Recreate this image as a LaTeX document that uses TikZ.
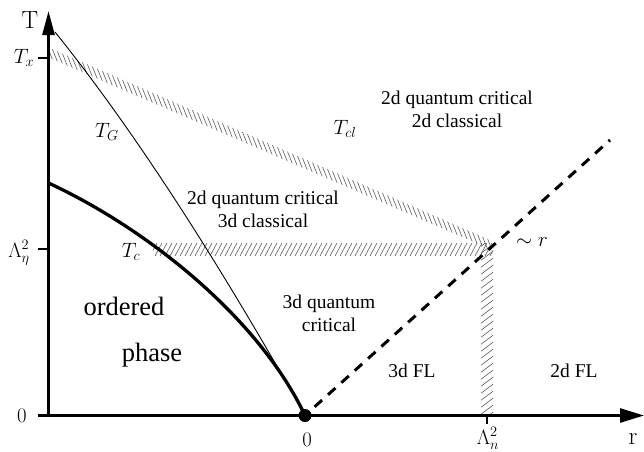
\documentclass[tikz,border=0pt]{standalone}
\usepackage[no-math]{fontspec}
\setmainfont{Liberation Serif}
\usetikzlibrary{arrows.meta}
\begin{document}
\begin{tikzpicture}[x=1pt,y=-1pt,
  axis/.style={line width=2.6pt},
  hatch/.style={draw=black!60,line width=0.65pt},
  reg/.style={font=\fontsize{19.5}{22}\selectfont, anchor=base, inner sep=0pt},
  big/.style={font=\fontsize{26.5}{30}\selectfont, anchor=base, inner sep=0pt},
  mlab/.style={font=\fontsize{21}{24}\selectfont, anchor=base, inner sep=0pt},
  alab/.style={font=\fontsize{26}{28}\selectfont, anchor=base, inner sep=0pt}]
\useasboundingbox (0,0) rectangle (644,451);
\coordinate (O) at (305,415.5);
\coordinate (Tx) at (48.5,58);
\coordinate (Le) at (48.5,249);
\coordinate (C) at (487,249);
\coordinate (Ln) at (487,415.5);
\coordinate (E) at (610,140);
\coordinate (Ybot) at (48.5,415.5);
\coordinate (Ytop) at (48.5,11);
\coordinate (Xl) at (38,415.5);
\coordinate (Xr) at (644,415.5);
% T_cl hatched band
\begin{scope}
  \clip (49.8,58) -- (490,249) -- (490,240) -- (49.8,48) -- cycle;
  \foreach \x in {40,45,...,500}
    \draw[hatch] ({\x-6},{53+0.435*(\x-49)-15}) -- ({\x+6},{53+0.435*(\x-49)+15});
\end{scope}
% horizontal hatched band
\begin{scope}
  \clip (153,243) rectangle (493,255);
  \foreach \x in {145,150,...,500}
    \draw[hatch] (\x,256) -- ({\x+7.5},242);
\end{scope}
% vertical hatched band
\begin{scope}
  \clip (481,243) rectangle (493,414);
  \foreach \y in {240,247,...,440}
    \draw[hatch] (480,\y) -- (494,{\y-10.5});
\end{scope}
% curves
\draw[line width=0.9pt] (55,32) .. controls (150,150) and (240,300) .. (O);
\draw[line width=3.3pt] (48.5,183) .. controls (150,230) and (260,320) .. (O);
\draw[line width=3pt, dash pattern=on 10pt off 8pt, shorten <=13pt] (O) -- (E);
% axes
\draw[axis,-{Triangle[length=24pt,width=12pt]}] (Ybot) -- (Ytop);
\draw[axis,-{Triangle[length=24pt,width=14pt]}] (Xl) -- (Xr);
\draw[axis] (Tx) -- +(-11,0);
\draw[axis] (Le) -- +(-11,0);
\draw[axis] (Ln) -- +(0,8);
\fill (O) circle (6.5);
% axis labels
\node[alab] (lT) at (30,28) {$\mathrm{T}$};
\node[alab] (lr) at (633,444) {$\mathrm{r}$};
\node[mlab] (lTx) at (24,63) {$T_x$};
\node[mlab] (lLe) at (19,257) {$\Lambda_\eta^2$};
\node[mlab] (l0a) at (22,422) {$0$};
\node[mlab] (l0b) at (307,446) {$0$};
\node[mlab] (lLn) at (488,444) {$\Lambda_n^2$};
\node[mlab] (lTG) at (107,137) {$T_G$};
\node[mlab] (lTcl) at (345,134) {$T_{cl}$};
\node[mlab] (lTc) at (131,257) {$T_c$};
\node[mlab] (lsim) at (532,246) {$\sim r$};
% region labels
\node[reg] (r1a) at (457,104) {2d quantum critical};
\node[reg] (r1b) at (457,127) {2d classical};
\node[reg] (r2a) at (263,204) {2d quantum critical};
\node[reg] (r2b) at (263,227) {3d classical};
\node[reg] (r3a) at (329,308) {3d quantum};
\node[reg] (r3b) at (329,331) {critical};
\node[reg] (r4) at (412,377) {3d FL};
\node[reg] (r5) at (574,377) {2d FL};
\node[big] (o1) at (124,315) {ordered};
\node[big] (o2) at (152,361) {phase};
\end{tikzpicture}
\end{document}
